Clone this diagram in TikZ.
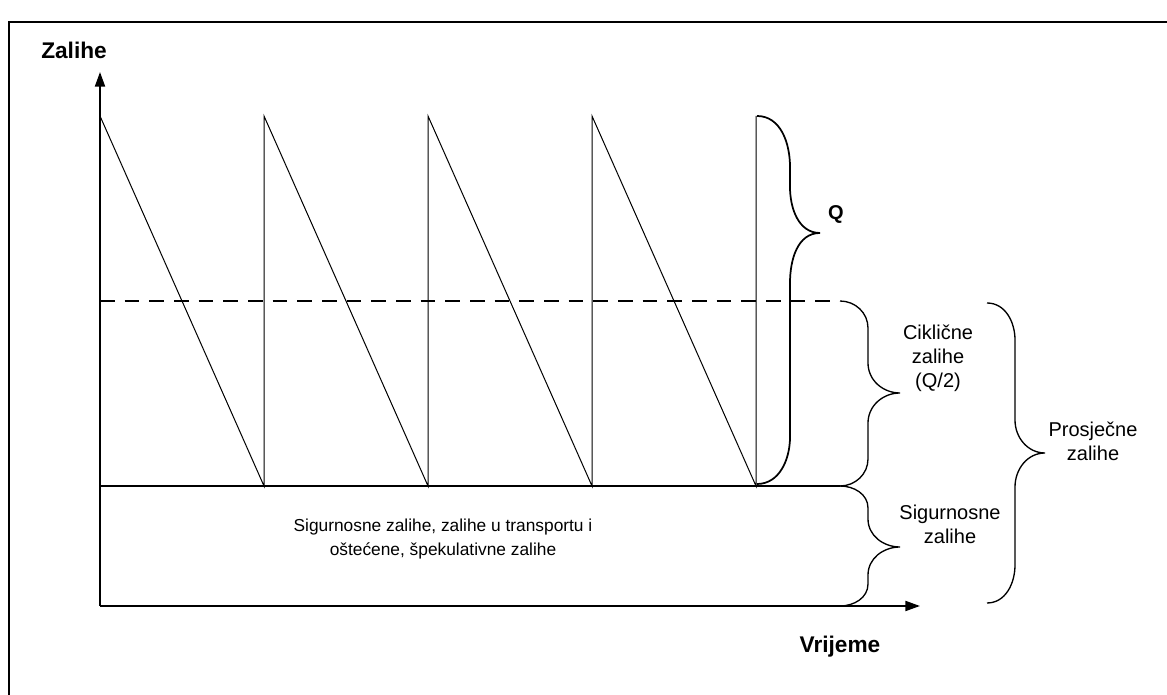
\documentclass[tikz,border=0pt]{standalone}
\usepackage{fontspec}
\setmainfont{Liberation Sans}
\usetikzlibrary{arrows.meta}
\begin{document}
\begin{tikzpicture}[x=0.75pt, y=0.75pt,
    axis/.style={line width=1.5pt, -{Triangle[length=11pt, width=7.5pt]}},
    curly/.style={line width=1pt},
    label/.style={font=\fontsize{15}{18}\selectfont, align=center, inner sep=0pt},
    axislabel/.style={font=\bfseries\fontsize{17}{20}\selectfont, inner sep=0pt}]
  \useasboundingbox (0,0) rectangle (1167,695);
  \def\xo{100}
  \def\yo{89}
  \def\ys{209}
  \def\yp{579}
  \def\yd{394}
  % frame
  \draw[line width=1.5pt] (1167,673) -- (9,673) -- (9,0);
  % axes
  \coordinate (O) at (\xo,\yo);
  \coordinate (xend) at (920,\yo);
  \coordinate (yend) at (\xo,623);
  \draw[axis] (O) -- (xend);
  \draw[axis] (O) -- (yend);
  % safety level and average level
  \draw[line width=1pt] (\xo,\ys) -- (840,\ys);
  \draw[line width=0.9pt, dash pattern=on 11pt off 7.5pt] (\xo,\yd) -- (840,\yd);
  % saw teeth
  \draw[line width=0.75pt] (\xo,\yp) -- (264,\ys) -- (264,\yp) -- (428,\ys)
    -- (428,\yp) -- (592,\ys) -- (592,\yp) -- (756,\ys) -- (756,\yp);
  % Q
  \draw[line width=1.3pt] (757,\yp) to[out=0, in=90] (790,528) -- (790,508)
    to[out=-90, in=180] (820,462) to[out=180, in=90] (790,412) -- (790,258)
    to[out=-90, in=0] (757,211);
  % ciklicne
  \draw[curly] (840,\yd) to[out=0, in=90] (868,367) -- (868,332)
    to[out=-90, in=180] (900,302) to[out=180, in=90] (868,272) -- (868,236)
    to[out=-90, in=0] (840,\ys);
  % sigurnosne
  \draw[curly] (840,\ys) to[out=0, in=90] (868,187) -- (868,176)
    to[out=-90, in=180] (900,148) to[out=180, in=90] (868,120) -- (868,111)
    to[out=-90, in=0] (840,\yo);
  % prosjecne
  \draw[curly] (987,392) to[out=0, in=90] (1015,355) -- (1015,275)
    to[out=-90, in=180] (1045,242) to[out=180, in=90] (1015,208) -- (1015,130)
    to[out=-90, in=0] (987,92);
  % labels
  \node[axislabel] (zalihe) at (74,645) {Zalihe};
  \node[axislabel] (vrijeme) at (840,48) {Vrijeme};
  \node[font=\bfseries\fontsize{15}{17}\selectfont, inner sep=0pt] (q) at (836,481) {Q};
  \node[label] (ciklicne) at (938,337) {Ciklične\\zalihe\\(Q/2)};
  \node[label] (sigurnosne) at (950,171) {Sigurnosne\\zalihe};
  \node[label] (prosjecne) at (1093,254) {Prosječne\\zalihe};
  \node[label, font=\fontsize{13}{17.5}\selectfont] (ostale) at (443,156)
    {Sigurnosne zalihe, zalihe u transportu i\\oštećene, špekulativne zalihe};
\end{tikzpicture}
\end{document}
